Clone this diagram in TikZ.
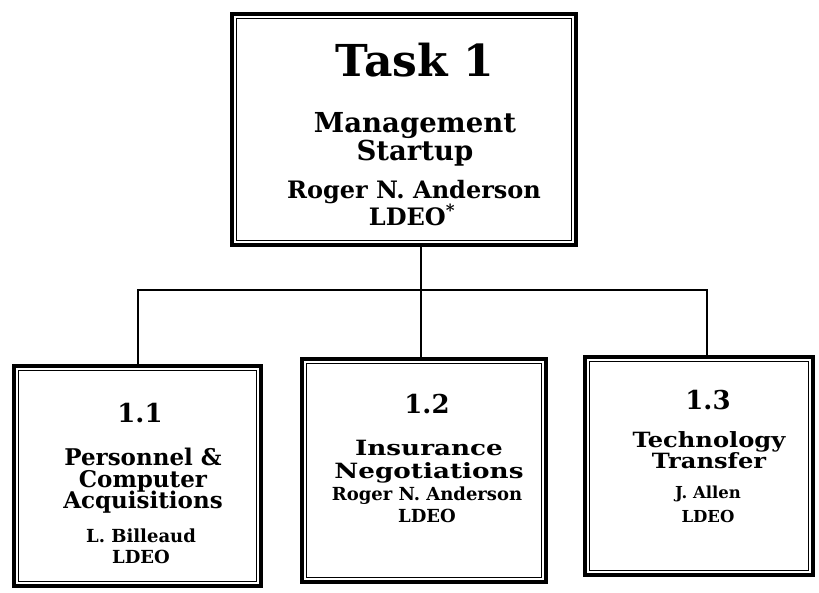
\documentclass[tikz,border=0pt]{standalone}
\usepackage{fontspec}
\setmainfont{DejaVu Serif}
\newfontfamily\widefont[FakeStretch=1.15]{DejaVu Serif}
\newfontfamily\widerfont[FakeStretch=1.25]{DejaVu Serif}
\usetikzlibrary{positioning,calc}

\tikzset{
  taskbox/.style={draw,line width=4.5pt,inner sep=0pt},
  innerbox/.style={draw,line width=1.2pt},
  conn/.style={line width=2.6pt},
  txt/.style={anchor=base,inner sep=0pt},
  ftask/.style={txt,font=\fontsize{44}{44}\selectfont\bfseries},
  fhead/.style={txt,font=\fontsize{27.5}{27.5}\selectfont\bfseries},
  fname/.style={txt,font=\fontsize{24}{24}\selectfont\bfseries},
  fnum/.style={txt,font=\fontsize{26}{26}\selectfont\bfseries},
  fsub/.style={txt,font=\fontsize{23}{23}\selectfont\bfseries},
  fsubw/.style={txt,font=\fontsize{21}{21}\widerfont\bfseries},
  fsubt/.style={txt,font=\fontsize{21}{21}\widefont\bfseries},
  fwho/.style={txt,font=\fontsize{18}{18}\selectfont\bfseries},
  fwhoc/.style={txt,font=\fontsize{16.5}{16.5}\selectfont\bfseries}
}

\begin{document}
\begin{tikzpicture}[x=1pt,y=-1pt]
\useasboundingbox (0,0) rectangle (819,593);
% boxes
\node[taskbox,minimum width=344pt,minimum height=231pt] (t1) at (404,129.5) {};
\node[taskbox,minimum width=247pt,minimum height=220pt] (t11) at (137.5,476) {};
\node[taskbox,minimum width=244pt,minimum height=223pt] (t12) at (424,470.5) {};
\node[taskbox,minimum width=228pt,minimum height=218pt] (t13) at (699,466) {};
\foreach \b in {t1,t11,t12,t13}{\draw[innerbox] ([shift={(6.5,6.5)}]\b.north west) rectangle ([shift={(-6.5,-6.5)}]\b.south east);}
% texts
\node[ftask] (t1-num) at (415,77) {Task 1};
\node[fhead] (t1-sub1) at (415,133) {Management};
\node[fhead] (t1-sub2) at (415,161) {Startup};
\node[fname] (t1-who1) at (414,199) {Roger N. Anderson};
\node[fname] (t1-who2) at (412,226) {LDEO\textsuperscript{*}};
\node[fnum] (t11-num) at (140,422) {1.1};
\node[fsub] (t11-sub1) at (143,465) {Personnel \&};
\node[fsub] (t11-sub2) at (143,487) {Computer};
\node[fsub] (t11-sub3) at (143,508) {Acquisitions};
\node[fwho] (t11-who1) at (141,542) {L. Billeaud};
\node[fwho] (t11-who2) at (141,563) {LDEO};
\node[fnum] (t12-num) at (427,413) {1.2};
\node[fsubw] (t12-sub1) at (429,455) {Insurance};
\node[fsubw] (t12-sub2) at (429,478) {Negotiations};
\node[fwho] (t12-who1) at (427,500) {Roger N. Anderson};
\node[fwho] (t12-who2) at (427,522) {LDEO};
\node[fnum] (t13-num) at (708,409) {1.3};
\node[fsubt] (t13-sub1) at (709,447) {Technology};
\node[fsubt] (t13-sub2) at (709,468) {Transfer};
\node[fwhoc] (t13-who1) at (708,498) {J. Allen};
\node[fwhoc] (t13-who2) at (708,522) {LDEO};
% connectors
\coordinate (busL) at (138,290);
\coordinate (drop) at (421,290);
\coordinate (busR) at (707,290);
\draw[conn] (t1.south -| drop) -- (t12.north -| drop);
\draw[conn] (t11.north -| busL) -- (busL) -- (busR) -- (t13.north -| busR);
\end{tikzpicture}
\end{document}
